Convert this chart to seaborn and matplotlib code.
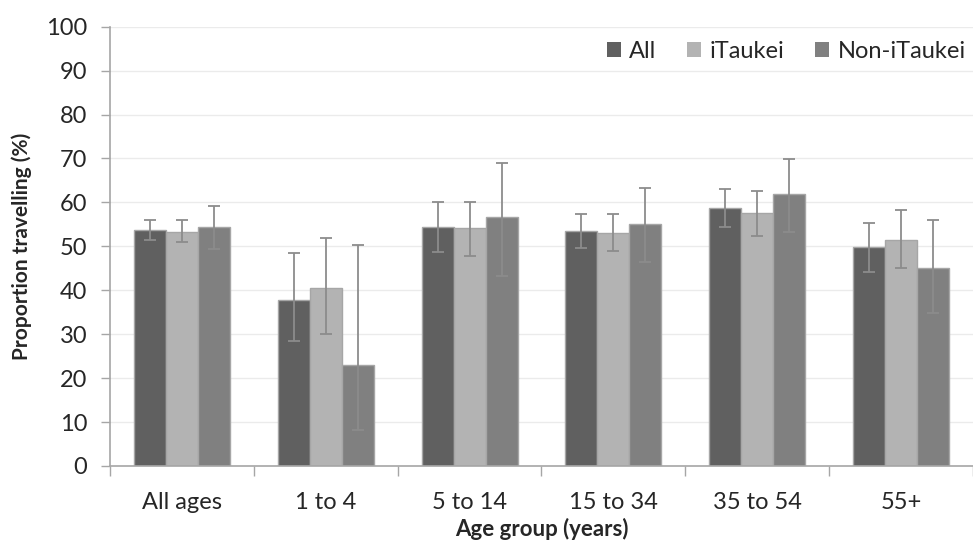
import matplotlib
matplotlib.use("Agg")
import matplotlib.pyplot as plt
import seaborn as sns
import pandas as pd
import numpy as np

categories = ["All ages", "1 to 4", "5 to 14", "15 to 34", "35 to 54", "55+"]
series = ["All", "iTaukei", "Non-iTaukei"]

all_vals = [53.7, 37.9, 54.4, 53.5, 58.7, 49.8]
all_lo = [51.4, 28.5, 48.8, 49.7, 54.3, 44.2]
all_hi = [56.0, 48.4, 60.1, 57.4, 63.1, 55.4]

itaukei_vals = [53.3, 40.5, 54.1, 53.1, 57.6, 51.5]
itaukei_lo = [50.9, 30.1, 47.8, 48.9, 52.4, 45.0]
itaukei_hi = [56.1, 52.0, 60.2, 57.4, 62.7, 58.2]

non_vals = [54.3, 23.1, 56.6, 55.0, 61.9, 45.0]
non_lo = [49.4, 8.2, 43.3, 46.4, 53.2, 34.9]
non_hi = [59.1, 50.3, 69.0, 63.2, 69.9, 55.9]

colors = ["#606060", "#b3b3b3", "#808080"]

rows = []
for s, v, lo, hi in [("All", all_vals, all_lo, all_hi),
                     ("iTaukei", itaukei_vals, itaukei_lo, itaukei_hi),
                     ("Non-iTaukei", non_vals, non_lo, non_hi)]:
    for c, vv, l, h in zip(categories, v, lo, hi):
        rows.append({"Age": c, "Group": s, "Value": vv, "lo": l, "hi": h})
df = pd.DataFrame(rows)

sns.set_style("white")
plt.rcParams["font.family"] = ["Lato", "DejaVu Sans"]

fig = plt.figure(figsize=(9.73, 5.5), dpi=100)
ax = fig.add_axes([110/973, (550-466)/550, 1 - 110/973, (466-26.7)/550])

sns.barplot(data=df, x="Age", y="Value", hue="Group", order=categories,
            hue_order=series, palette=colors, width=0.668, errorbar=None,
            edgecolor="#a6a6a6", linewidth=1.0, saturation=1, ax=ax, zorder=2)

# error bars
for s, container in zip(series, ax.containers):
    sub = df[df["Group"] == s].set_index("Age").loc[categories]
    xs = [p.get_x() + p.get_width() / 2 for p in container.patches]
    vals = sub["Value"].values
    ax.errorbar(xs, vals, yerr=[vals - sub["lo"].values, sub["hi"].values - vals],
                fmt="none", ecolor="#8c8c8c", elinewidth=1.3, capsize=4.5,
                capthick=1.3, zorder=3)

ax.set_ylim(0, 100)
ax.set_xlim(-0.5, -0.5 + (973 - 110) / 145.7)
ax.set_yticks(np.arange(0, 101, 10))
ax.yaxis.grid(True, color="#ebebeb", linewidth=1, zorder=0)
ax.set_axisbelow(True)

for side in ["top", "right"]:
    ax.spines[side].set_visible(False)
for side in ["left", "bottom"]:
    ax.spines[side].set_color("#a6a6a6")
    ax.spines[side].set_linewidth(1.2)

ax.tick_params(axis="y", which="major", direction="out", length=6.5, width=1,
               color="#a6a6a6", labelsize=17, left=True, pad=10)
ax.tick_params(axis="x", which="major", length=0, labelsize=17, pad=19)
ax.set_xticks(range(len(categories)))
ax.set_xticklabels(categories)
ax.set_xticks(np.arange(-0.5, len(categories), 1.0), minor=True)
ax.tick_params(axis="x", which="minor", direction="out", length=7, width=1,
               color="#a6a6a6", bottom=True)

ax.set_ylabel("Proportion travelling (%)", fontsize=15, fontweight="bold", labelpad=10)
ax.set_xlabel("Age group (years)", fontsize=16, fontweight="bold", labelpad=3)

leg = ax.legend(loc="upper right", bbox_to_anchor=(1.016, 1.016), ncol=3, frameon=False,
                fontsize=17, handlelength=0.6, handleheight=0.6, handletextpad=0.35,
                columnspacing=1.3)
for h in leg.legend_handles:
    h.set_edgecolor("none")

fig.savefig("out.png", dpi=100)
